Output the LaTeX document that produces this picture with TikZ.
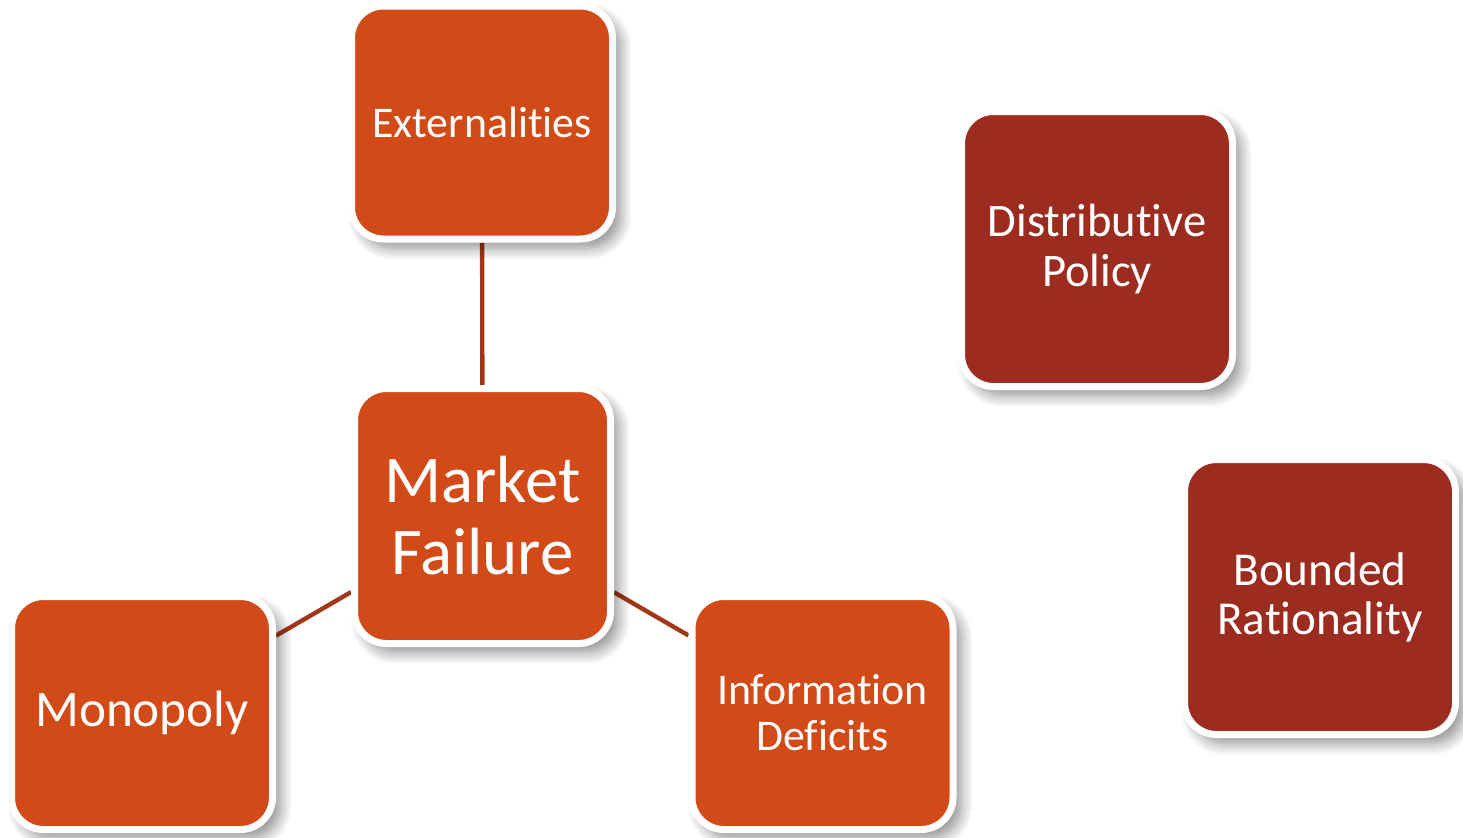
\documentclass[tikz,border=0pt]{standalone}
\usepackage{fontspec}
\setmainfont{Carlito}[Ligatures=NoCommon]
\usetikzlibrary{backgrounds,shadows.blur}
\definecolor{boxorange}{HTML}{D24A18}
\definecolor{boxred}{HTML}{9B2C1F}
\definecolor{linkred}{HTML}{A23718}
\tikzset{
	box/.style={rectangle, rounded corners=16pt, draw=white, line width=3.5pt,
		fill=boxorange, text=white, align=center,
		minimum width=130.5pt, minimum height=116.5pt,
		blur shadow={shadow xshift=4pt, shadow yshift=-4.5pt, shadow blur steps=12,
			shadow blur radius=6pt, shadow opacity=45},
		font=\fontsize{21.9}{23}\selectfont},
	bigbox/.style={box, minimum width=128pt, minimum height=127.5pt},
	sidebox/.style={box, fill=boxred, minimum width=135.5pt, minimum height=137.5pt,
		font=\fontsize{23.3}{25}\selectfont},
	link/.style={draw=linkred, line width=2.2pt},
}

\begin{document}
\begin{tikzpicture}[x=0.5pt, y=-0.5pt]
\useasboundingbox (0,0) rectangle (1463,837);
% the market failure cluster
\node[bigbox, font=\fontsize{33.4}{36}\selectfont] (failure) at (482.5,516) {Market\\Failure};
\node[box] (extern) at (482,122.5) {Externalities};
\node[box, font=\fontsize{25.6}{27}\selectfont] (monopoly) at (142,713) {Monopoly};
\node[box] (info) at (822.5,713) {Information\\Deficits};
% the two loose boxes
\node[sidebox] (distrib) at (1097,249) {Distributive\\Policy};
\node[sidebox, font=\fontsize{23.6}{24.5}\selectfont] (bounded) at (1320,597) {Bounded\\Rationality};
\begin{scope}[on background layer]
\draw[link] (failure) -- (extern);
\draw[link] (failure) -- (monopoly);
\draw[link] (failure) -- (info);
\end{scope}
\end{tikzpicture}
\end{document}
